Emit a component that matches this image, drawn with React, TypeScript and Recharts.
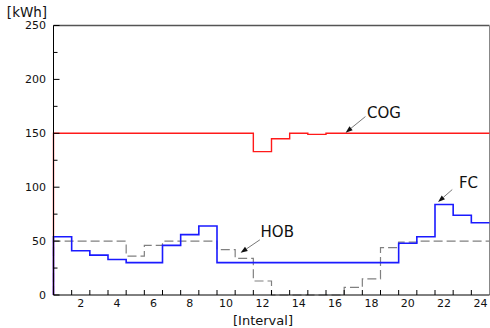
import React from 'react';
import {
  LineChart, Line, XAxis, YAxis, ReferenceLine, ReferenceDot, Label,
} from 'recharts';

// values per interval 1..24
const intervals = [1, 2, 3, 4, 5, 6, 7, 8, 9, 10, 11, 12, 13, 14, 15, 16, 17, 18, 19, 20, 21, 22, 23, 24];
const cog = [150, 150, 150, 150, 150, 150, 150, 150, 150, 150, 150, 133, 145, 150, 149, 150, 150, 150, 150, 150, 150, 150, 150, 150];
const fc = [54, 41, 37, 33, 30, 30, 46, 56, 64, 30, 30, 30, 30, 30, 30, 30, 30, 30, 30, 48, 54, 84, 74, 67];
const hob = [50, 50, 50, 50, 36, 46, 50, 50, 50, 42, 34, 13, 0, 0, 0, 0, 7, 15, 44, 49, 50, 50, 50, 50];

const xLabels = [2, 4, 6, 8, 10, 12, 14, 16, 18, 20, 22, 24];
const xMarks = [1.5, 2.5, 3.5, 4.5, 5.5, 6.5, 7.5, 8.5, 9.5, 10.5, 11.5, 12.5, 13.5, 14.5, 15.5, 16.5, 17.5, 18.5, 19.5, 20.5, 21.5, 22.5, 23.5];
const yLabels = [0, 50, 100, 150, 200, 250];
const yMarks = [25, 75, 125, 175, 225];

const FONT = '"DejaVu Sans", Arial, sans-serif';

// step rows: each interval spans [i-0.5, i+0.5], lines rise from 0 at the left edge
const rows = [
  { x: 0.5, cog: 0, fc: 0, hob: 0 },
  ...intervals.map((n, i) => ({ x: n - 0.5, cog: cog[i], fc: fc[i], hob: hob[i] })),
  { x: 24.5, cog: cog[23], fc: fc[23], hob: hob[23] },
];

const XTick = (props: any) => {
  const { x, y, payload } = props;
  const v = payload.value;
  if (xMarks.includes(v)) {
    return <line x1={x} y1={y} x2={x} y2={y - 5} stroke="#000" strokeWidth={1} />;
  }
  return (
    <text x={x} y={y + 8} textAnchor="middle" dominantBaseline="central" fontSize={11} fontFamily={FONT} fill="#111">
      {v}
    </text>
  );
};

const YTick = (props: any) => {
  const { x, y, payload } = props;
  const v = payload.value;
  const major = yLabels.includes(v);
  return (
    <g>
      <line x1={x} y1={y} x2={x + (major ? 6 : 4)} y2={y} stroke="#000" strokeWidth={1} />
      {major && (
        <text x={x - 7.5} y={y} textAnchor="end" dominantBaseline="central" fontSize={11} fontFamily={FONT} fill="#111">
          {v}
        </text>
      )}
    </g>
  );
};

const Arrow = (props: any) => {
  const { x1, y1, x2, y2 } = props;
  const ang = Math.atan2(y2 - y1, x2 - x1);
  const len = 7;
  const w = 2.5;
  const bx = x2 - len * Math.cos(ang);
  const by = y2 - len * Math.sin(ang);
  const px = -Math.sin(ang) * w;
  const py = Math.cos(ang) * w;
  return (
    <g>
      <line x1={x1} y1={y1} x2={bx} y2={by} stroke="#555" strokeWidth={0.8} />
      <polygon points={`${x2},${y2} ${bx + px},${by + py} ${bx - px},${by - py}`} fill="#111" />
    </g>
  );
};

const tag = (text: string) => (props: any) => (
  <text x={props.cx} y={props.cy} dominantBaseline="central" fontSize={15} fontFamily={FONT} fill="#111">
    {text}
  </text>
);

export default function App() {
  return (
    <div style={{ position: 'absolute', left: 0, top: 0, background: '#fff' }}>
      <LineChart width={490} height={328} data={rows} margin={{ top: 25.5, right: 0.5, bottom: 0, left: 0 }}>
        <XAxis
          dataKey="x"
          type="number"
          domain={[0.5, 24.5]}
          ticks={[...xMarks, ...xLabels]}
          interval={0}
          tick={<XTick />}
          tickLine={false}
          tickSize={0}
          tickMargin={0}
          height={33}
          axisLine={{ stroke: '#000' }}
        >
          <Label
            content={() => (
              <text x={263} y={320} textAnchor="middle" dominantBaseline="central" fontSize={13} fontFamily={FONT} fill="#111">
                [Interval]
              </text>
            )}
          />
        </XAxis>
        <YAxis
          type="number"
          domain={[0, 250]}
          ticks={[...yLabels, ...yMarks]}
          interval={0}
          tick={<YTick />}
          tickLine={false}
          tickSize={0}
          tickMargin={0}
          width={53.5}
          axisLine={{ stroke: '#000' }}
        >
          <Label
            content={() => (
              <text x={27} y={11.7} textAnchor="middle" dominantBaseline="central" fontSize={13.5} fontFamily={FONT} fill="#111">
                [kWh]
              </text>
            )}
          />
        </YAxis>
        <ReferenceLine y={250} stroke="#555" strokeWidth={1.3} />
        <ReferenceLine x={24.5} stroke="#888" strokeWidth={1} />
        <Line dataKey="hob" type="stepAfter" stroke="#808080" strokeWidth={1.2} strokeDasharray="9 4" dot={false} isAnimationActive={false} />
        <Line dataKey="cog" type="stepAfter" stroke="#ff1a1a" strokeWidth={1.4} dot={false} isAnimationActive={false} />
        <Line dataKey="fc" type="stepAfter" stroke="#1a1aff" strokeWidth={1.6} dot={false} isAnimationActive={false} />
        <ReferenceLine segment={[{ x: 17.67, y: 165.5 }, { x: 16.58, y: 150.6 }]} shape={Arrow} />
        <ReferenceLine segment={[{ x: 22.45, y: 97.8 }, { x: 21.67, y: 86.3 }]} shape={Arrow} />
        <ReferenceLine segment={[{ x: 11.86, y: 51.2 }, { x: 10.8, y: 39.1 }]} shape={Arrow} />
        <ReferenceDot x={17.76} y={169.2} r={0} shape={tag('COG')} />
        <ReferenceDot x={22.82} y={104} r={0} shape={tag('FC')} />
        <ReferenceDot x={11.9} y={58.7} r={0} shape={tag('HOB')} />
      </LineChart>
    </div>
  );
}
